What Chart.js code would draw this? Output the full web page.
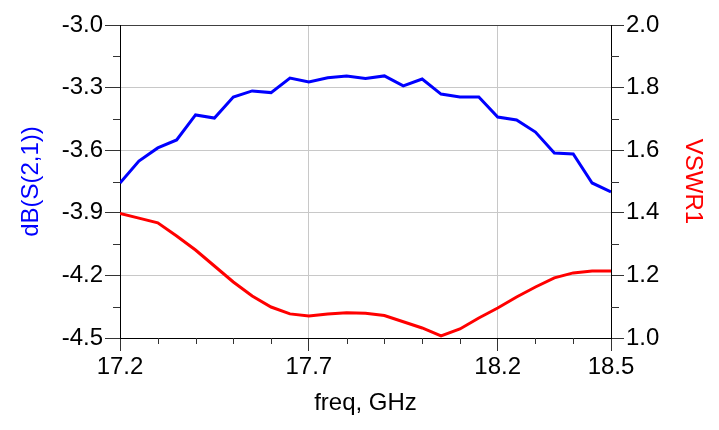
<!DOCTYPE html>
<html>
<head>
<meta charset="utf-8">
<script src="https://cdn.jsdelivr.net/npm/chart.js@4/dist/chart.umd.min.js"></script>
<style>
  html, body { margin: 0; padding: 0; background: #fff; }
  canvas { display: block; }
</style>
</head>
<body>
<canvas id="c" width="719" height="430"></canvas>
<script>
// ---- data ----
const freqGHz = [17.20, 17.25, 17.30, 17.35, 17.40, 17.45, 17.50, 17.55, 17.60, 17.65,
                 17.70, 17.75, 17.80, 17.85, 17.90, 17.95, 18.00, 18.05, 18.10, 18.15,
                 18.20, 18.25, 18.30, 18.35, 18.40, 18.45, 18.50];
const s21dB = [-3.757, -3.652, -3.589, -3.551, -3.431, -3.446, -3.345, -3.316, -3.324, -3.254,
               -3.273, -3.253, -3.244, -3.256, -3.244, -3.292, -3.259, -3.331, -3.345, -3.345,
               -3.441, -3.455, -3.513, -3.613, -3.618, -3.757, -3.800];
const vswr1 = [1.398, 1.383, 1.368, 1.326, 1.281, 1.230, 1.179, 1.134, 1.099, 1.077,
               1.070, 1.077, 1.081, 1.079, 1.072, 1.052, 1.032, 1.007, 1.029, 1.064,
               1.096, 1.131, 1.163, 1.192, 1.208, 1.214, 1.214];

// ---- tick values ----
const xMajorTicks = [17.2, 17.7, 18.2, 18.5];
const xMinorTicks = [17.3, 17.4, 17.5, 17.6, 17.8, 17.9, 18.0, 18.1, 18.3, 18.4];
const leftMajorTicks = [-4.5, -4.2, -3.9, -3.6, -3.3, -3.0];
const leftMinorTicks = [-4.35, -4.05, -3.75, -3.45, -3.15];
const rightMajorTicks = [1.0, 1.2, 1.4, 1.6, 1.8, 2.0];
const rightMinorTicks = [1.1, 1.3, 1.5, 1.7, 1.9];

const FONT = '"Liberation Sans", Arial, sans-serif';
const TICK_COLOR = '#333333';
const GRID_COLOR = '#c8c8c8';

const minorTickPlugin = {
  id: 'minorTicks',
  afterDraw(chart) {
    const ctx = chart.ctx;
    const sx = chart.scales.x, sy = chart.scales.y, sy1 = chart.scales.y1;
    ctx.save();
    ctx.strokeStyle = TICK_COLOR;
    ctx.lineWidth = 1;
    ctx.beginPath();
    xMinorTicks.forEach(v => {
      const px = Math.round(sx.getPixelForValue(v)) + 0.5;
      ctx.moveTo(px, sx.top); ctx.lineTo(px, sx.top + 6);
    });
    leftMinorTicks.forEach(v => {
      const py = Math.round(sy.getPixelForValue(v)) + 0.5;
      ctx.moveTo(sy.right, py); ctx.lineTo(sy.right - 7, py);
    });
    rightMinorTicks.forEach(v => {
      const py = Math.round(sy1.getPixelForValue(v)) + 0.5;
      ctx.moveTo(sy1.left, py); ctx.lineTo(sy1.left + 8, py);
    });
    ctx.stroke();
    ctx.restore();
  }
};

const near = (a, b) => Math.abs(a - b) < 1e-6;

new Chart(document.getElementById('c'), {
  type: 'line',
  data: {
    datasets: [
      {
        label: 'dB(S(2,1))',
        data: freqGHz.map((f, i) => ({ x: f, y: s21dB[i] })),
        borderColor: '#0000ff',
        borderWidth: 3,
        pointRadius: 0,
        tension: 0,
        yAxisID: 'y'
      },
      {
        label: 'VSWR1',
        data: freqGHz.map((f, i) => ({ x: f, y: vswr1[i] })),
        borderColor: '#ff0000',
        borderWidth: 3,
        pointRadius: 0,
        tension: 0,
        yAxisID: 'y1'
      }
    ]
  },
  options: {
    responsive: false,
    animation: false,
    devicePixelRatio: 1,
    layout: { padding: { top: 25, left: 0, right: 0, bottom: 0 } },
    plugins: { legend: { display: false }, tooltip: { enabled: false } },
    scales: {
      x: {
        type: 'linear',
        position: 'bottom',
        min: 17.2, max: 18.5,
        afterBuildTicks: s => { s.ticks = xMajorTicks.map(v => ({ value: v })); },
        afterFit: s => { s.height = 92; },
        ticks: {
          color: '#000', font: { family: FONT, size: 24 }, padding: 2,
          maxRotation: 0, autoSkip: false,
          callback: v => Number(v).toFixed(1)
        },
        grid: {
          color: c => (c.tick && (near(c.tick.value, 17.7) || near(c.tick.value, 18.2))) ? GRID_COLOR : 'rgba(0,0,0,0)',
          tickColor: TICK_COLOR,
          tickLength: 13,
          lineWidth: 1
        },
        border: { display: true, color: '#000', width: 1 },
        title: {
          display: true, text: 'freq, GHz', color: '#000',
          font: { family: FONT, size: 24 }, padding: { top: 0, bottom: 12 }
        }
      },
      y: {
        type: 'linear',
        position: 'left',
        min: -4.5, max: -3.0,
        afterBuildTicks: s => { s.ticks = leftMajorTicks.map(v => ({ value: v })); },
        afterFit: s => { s.width = 120; },
        ticks: {
          color: '#000', font: { family: FONT, size: 24 }, padding: 2,
          callback: v => Number(v).toFixed(1)
        },
        grid: {
          color: c => {
            if (!c.tick) return GRID_COLOR;
            if (near(c.tick.value, -3.0)) return '#404040';
            if (near(c.tick.value, -4.5)) return 'rgba(0,0,0,0)';
            return GRID_COLOR;
          },
          tickColor: TICK_COLOR,
          tickLength: 15,
          lineWidth: 1
        },
        border: { display: true, color: '#000', width: 1 },
        title: {
          display: true, text: 'dB(S(2,1))', color: '#0000ff',
          font: { family: FONT, size: 24 }, padding: { top: 17, bottom: 0 }
        }
      },
      y1: {
        type: 'linear',
        position: 'right',
        min: 1.0, max: 2.0,
        afterBuildTicks: s => { s.ticks = rightMajorTicks.map(v => ({ value: v })); },
        afterFit: s => { s.width = 108; },
        ticks: {
          color: '#000', font: { family: FONT, size: 24 }, padding: 2,
          callback: v => Number(v).toFixed(1)
        },
        grid: {
          drawOnChartArea: false,
          tickColor: TICK_COLOR,
          tickLength: 13,
          lineWidth: 1
        },
        border: { display: true, color: '#000', width: 1 },
        title: {
          display: true, text: 'VSWR1', color: '#ff0000',
          font: { family: FONT, size: 24 }, padding: { top: 12, bottom: 0 }
        }
      }
    }
  },
  plugins: [minorTickPlugin]
});
</script>
</body>
</html>
